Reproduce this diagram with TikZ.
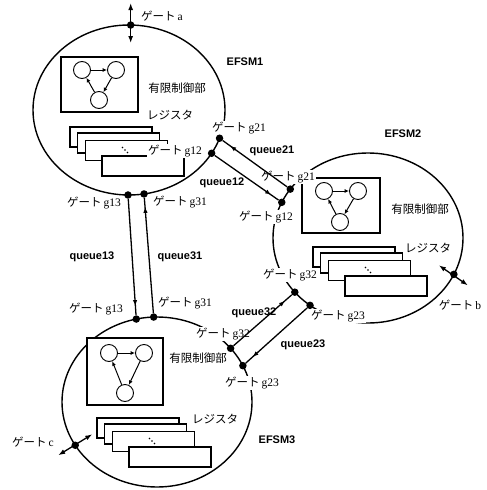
\documentclass[tikz,border=0pt]{standalone}
\usepackage{fontspec}
\setmainfont{Liberation Serif}
\setsansfont{Liberation Sans}
\newfontfamily\jpfont{Noto Sans CJK JP}
\usetikzlibrary{arrows.meta,decorations.markings}

\newcommand{\gatelbl}[1]{{\jpfont ゲート}\,#1}

\tikzset{
  machine/.style={line width=1.4pt},
  ctrlbox/.style={draw=black,fill=white,line width=1.1pt},
  regbox/.style={draw=black,fill=white,line width=1.1pt},
  statenode/.style={circle,draw=black,fill=white,line width=0.9pt,minimum size=17pt,inner sep=0pt},
  statearrow/.style={-{Latex[length=4.5pt,width=4pt]},line width=1pt},
  gatedot/.style={circle,fill=black,inner sep=0pt,minimum size=7.5pt},
  gatearrow/.style={{Latex[length=7pt,width=5pt]}-{Latex[length=7pt,width=5pt]},line width=1.3pt},
  queueline/.style={line width=1.3pt,postaction={decorate},
    decoration={markings,mark=at position -9pt with {\arrow{Latex[length=6pt,width=4.5pt]}}}},
  txt/.style={font=\fontsize{11.5}{13}\selectfont,inner sep=1pt},
  gatetxt/.style={txt,fill=white},
  boldtxt/.style={font=\sffamily\bfseries\fontsize{11}{13}\selectfont,inner sep=1pt},
}

\begin{document}
\begin{tikzpicture}[x=1pt,y=-1pt]
  \useasboundingbox (0,0) rectangle (487,490);

  % machine outlines
  \coordinate (e1) at (129,110);
  \coordinate (e2) at (368,238);
  \coordinate (e3) at (157,402);
  \draw[machine] (e1) ellipse [x radius=96,y radius=85];
  \draw[machine] (e2) ellipse [x radius=95,y radius=85];
  \draw[machine] (e3) ellipse [x radius=95,y radius=85];

  % EFSM1: finite control and registers
  \filldraw[ctrlbox] (61,57) rectangle (138,112);
  \node[statenode] (e1s1) at (82,70) {};
  \node[statenode] (e1s2) at (116,70) {};
  \node[statenode] (e1s3) at (99,100) {};
  \draw[statearrow] (e1s1) -- (e1s2);
  \draw[statearrow] (e1s2) -- (e1s3);
  \draw[statearrow] (e1s3) -- (e1s1);
  \filldraw[regbox] (70,127) rectangle (152,147);
  \filldraw[regbox] (77.5,133) rectangle (159.5,153);
  \filldraw[regbox] (85.5,140.5) rectangle (167.5,160.5);
  \fill (122.5,147.5) circle (0.9) (125,150) circle (0.9) (127.5,152.5) circle (0.9);
  \filldraw[regbox] (102,156) rectangle (184,176);

  % EFSM2: finite control and registers
  \filldraw[ctrlbox] (302,178) rectangle (380,233);
  \node[statenode] (e2s1) at (324,191) {};
  \node[statenode] (e2s2) at (358,191) {};
  \node[statenode] (e2s3) at (340,222) {};
  \draw[statearrow] (e2s1) -- (e2s2);
  \draw[statearrow] (e2s2) -- (e2s3);
  \draw[statearrow] (e2s3) -- (e2s1);
  \filldraw[regbox] (313,247) rectangle (395,267);
  \filldraw[regbox] (320.5,253) rectangle (402.5,273);
  \filldraw[regbox] (328.5,260.5) rectangle (410.5,280.5);
  \fill (365.5,267.5) circle (0.9) (368,270) circle (0.9) (370.5,272.5) circle (0.9);
  \filldraw[regbox] (345,276) rectangle (427,296);

  % EFSM3: finite control and registers
  \filldraw[ctrlbox] (87,338) rectangle (163,405);
  \node[statenode] (e3s1) at (109,353) {};
  \node[statenode] (e3s2) at (144,353) {};
  \node[statenode] (e3s3) at (125,393) {};
  \draw[statearrow] (e3s1) -- (e3s2);
  \draw[statearrow] (e3s2) -- (e3s3);
  \draw[statearrow] (e3s3) -- (e3s1);
  \filldraw[regbox] (97,418) rectangle (179,438);
  \filldraw[regbox] (104.5,424) rectangle (186.5,444);
  \filldraw[regbox] (112.5,431.5) rectangle (194.5,451.5);
  \fill (149.5,438.5) circle (0.9) (152,441) circle (0.9) (154.5,443.5) circle (0.9);
  \filldraw[regbox] (129,447) rectangle (211,467);

  % texts
  \node[boldtxt] (e1name) at (245,62) {EFSM1};
  \node[boldtxt] (e2name) at (403,134) {EFSM2};
  \node[boldtxt] (e3name) at (277,440) {EFSM3};
  \node[txt] (e1ctrl) at (177,88) {\jpfont 有限制御部};
  \node[txt] (e2ctrl) at (420,209) {\jpfont 有限制御部};
  \node[txt] (e3ctrl) at (198,358) {\jpfont 有限制御部};
  \node[txt] (e1reg) at (170,115) {\jpfont レジスタ};
  \node[txt] (e2reg) at (428,248) {\jpfont レジスタ};
  \node[txt] (e3reg) at (215,419) {\jpfont レジスタ};
  \node[txt] (galbl) at (162,16) {\gatelbl{a}};
  \node[txt] (gblbl) at (460,305) {\gatelbl{b}};
  \node[txt] (gclbl) at (33,442) {\gatelbl{c}};
  \node[gatetxt] (e1g12lbl) at (175,151) {\gatelbl{g12}};
  \node[gatetxt] (e1g21lbl) at (239,128) {\gatelbl{g21}};
  \node[txt] (e1g13lbl) at (94,203) {\gatelbl{g13}};
  \node[txt] (e1g31lbl) at (180,202) {\gatelbl{g31}};
  \node[gatetxt] (e2g21lbl) at (288,177) {\gatelbl{g21}};
  \node[gatetxt] (e2g12lbl) at (266,217) {\gatelbl{g12}};
  \node[gatetxt] (e2g32lbl) at (290,275) {\gatelbl{g32}};
  \node[gatetxt] (e2g23lbl) at (338,316) {\gatelbl{g23}};
  \node[txt] (e3g13lbl) at (96,309) {\gatelbl{g13}};
  \node[txt] (e3g31lbl) at (185,303) {\gatelbl{g31}};
  \node[gatetxt] (e3g32lbl) at (223,334) {\gatelbl{g32}};
  \node[gatetxt] (e3g23lbl) at (252,383) {\gatelbl{g23}};
  \node[boldtxt] (q21lbl) at (272,151) {queue21};
  \node[boldtxt] (q12lbl) at (222,183) {queue12};
  \node[boldtxt] (q13lbl) at (92,257) {queue13};
  \node[boldtxt] (q31lbl) at (180,257) {queue31};
  \node[boldtxt] (q32lbl) at (254,313) {queue32};
  \node[boldtxt] (q23lbl) at (303,345) {queue23};

  % gates on the outlines
  \path (e1) ++(271:96 and 85) node[gatedot] (e1a) {};
  \path (e1) ++(19.4:96 and 85) node[gatedot] (e1g21) {};
  \path (e1) ++(30.6:96 and 85) node[gatedot] (e1g12) {};
  \path (e1) ++(90.6:96 and 85) node[gatedot] (e1g13) {};
  \path (e1) ++(81:96 and 85) node[gatedot] (e1g31) {};
  \path (e2) ++(215.1:95 and 85) node[gatedot] (e2g21) {};
  \path (e2) ++(204.8:95 and 85) node[gatedot] (e2g12) {};
  \path (e2) ++(140.4:95 and 85) node[gatedot] (e2g32) {};
  \path (e2) ++(127.6:95 and 85) node[gatedot] (e2g23) {};
  \path (e2) ++(25.3:95 and 85) node[gatedot] (e2b) {};
  \path (e3) ++(257.4:95 and 85) node[gatedot] (e3g13) {};
  \path (e3) ++(268:95 and 85) node[gatedot] (e3g31) {};
  \path (e3) ++(320.8:95 and 85) node[gatedot] (e3g32) {};
  \path (e3) ++(334.7:95 and 85) node[gatedot] (e3g23) {};
  \path (e3) ++(149.4:95 and 85) node[gatedot] (e3c) {};

  % outside gates
  \path (e1a) ++(0,-22) coordinate (aout) ++(0,40) coordinate (ain);
  \path (e2b) ++(-15,-9) coordinate (bin) ++(29,20) coordinate (bout);
  \path (e3c) ++(-17,10) coordinate (cout) ++(34,-21) coordinate (cin);
  \draw[gatearrow] (aout) -- (ain);
  \draw[gatearrow] (bin) -- (bout);
  \draw[gatearrow] (cout) -- (cin);

  % queues
  \draw[queueline] (e2g21) -- (e1g21);
  \draw[queueline] (e1g12) -- (e2g12);
  \draw[queueline] (e1g13) -- (e3g13);
  \draw[queueline] (e3g31) -- (e1g31);
  \draw[queueline] (e3g32) -- (e2g32);
  \draw[queueline] (e2g23) -- (e3g23);
\end{tikzpicture}
\end{document}
